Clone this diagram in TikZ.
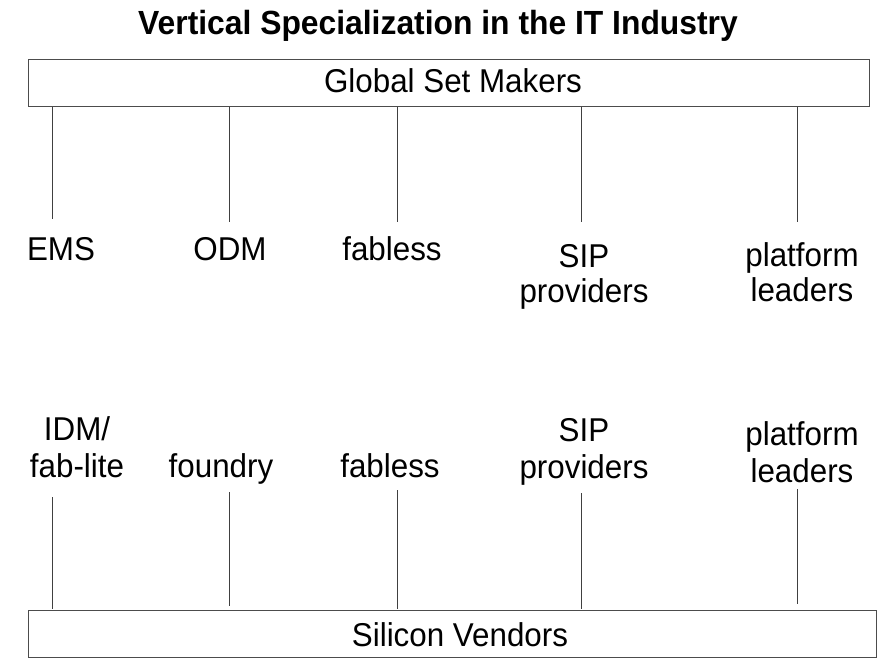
\documentclass[tikz,border=0pt]{standalone}
\usepackage{fontspec}
\setmainfont{Liberation Sans}[FakeStretch=0.95]
\begin{document}
\begin{tikzpicture}[x=1pt,y=-1pt]
\tikzset{
  tier/.style={draw=black!70, line width=0.9pt, rectangle, inner sep=0pt, anchor=north west},
  lab/.style={font=\fontsize{33}{35}\selectfont, inner sep=0pt, align=center, anchor=base},
  lablow/.style={lab, font=\fontsize{33}{37}\selectfont},
  link/.style={draw=black!75, line width=0.9pt},
}
\useasboundingbox (0,0) rectangle (877,658);
\fill[white] (0,0) rectangle (877,658);

% title
\node[inner sep=0pt, anchor=base, font=\fontsize{33.5}{36}\selectfont\bfseries] (title) at (438,35) {Vertical Specialization in the IT Industry};

% the two tiers
\node[tier, minimum width=841pt, minimum height=47pt] (gsm) at (28,59) {};
\node[lab] (gsmtext) at (453,93) {Global Set Makers};
\node[tier, minimum width=848pt, minimum height=47pt] (sv) at (28,610) {};
\node[lab] (svtext) at (460,646) {Silicon Vendors};

% upper labels (base = baseline of the last line)
\node[lab] (ems) at (61,260) {EMS};
\node[lab] (odm) at (230,260) {ODM};
\node[lab] (fabu) at (392,260) {fabless};
\node[lab] (sipu) at (584,302) {SIP\\providers};
\node[lab] (platu) at (802,301) {platform\\leaders};

% lower labels
\node[lablow] (idm) at (77,477) {IDM/\\fab-lite};
\node[lab] (found) at (221,477) {foundry};
\node[lab] (fabl) at (390,477) {fabless};
\node[lablow] (sipl) at (584,478) {SIP\\providers};
\node[lablow] (platl) at (802,482) {platform\\leaders};

% free ends of the upper links
\coordinate (ue1) at (52.7,219);
\coordinate (ue2) at (229,222);
\coordinate (ue3) at (397,222);
\coordinate (ue4) at (581,222);
\coordinate (ue5) at (797,222);
% free ends of the lower links
\coordinate (lt1) at (52.7,497);
\coordinate (lb1) at (52.7,609);
\coordinate (lt2) at (229,492);
\coordinate (lb2) at (229,606);
\coordinate (lt3) at (397,490);
\coordinate (lb3) at (397,609);
\coordinate (lt4) at (581,493);
\coordinate (lb4) at (581,609);
\coordinate (lt5) at (797,489);
\coordinate (lb5) at (797,604);

\foreach \i in {1,...,5}{
  \draw[link] (gsm.south -| ue\i) -- (ue\i);
  \draw[link] (lt\i) -- (lb\i);
}
\end{tikzpicture}
\end{document}
